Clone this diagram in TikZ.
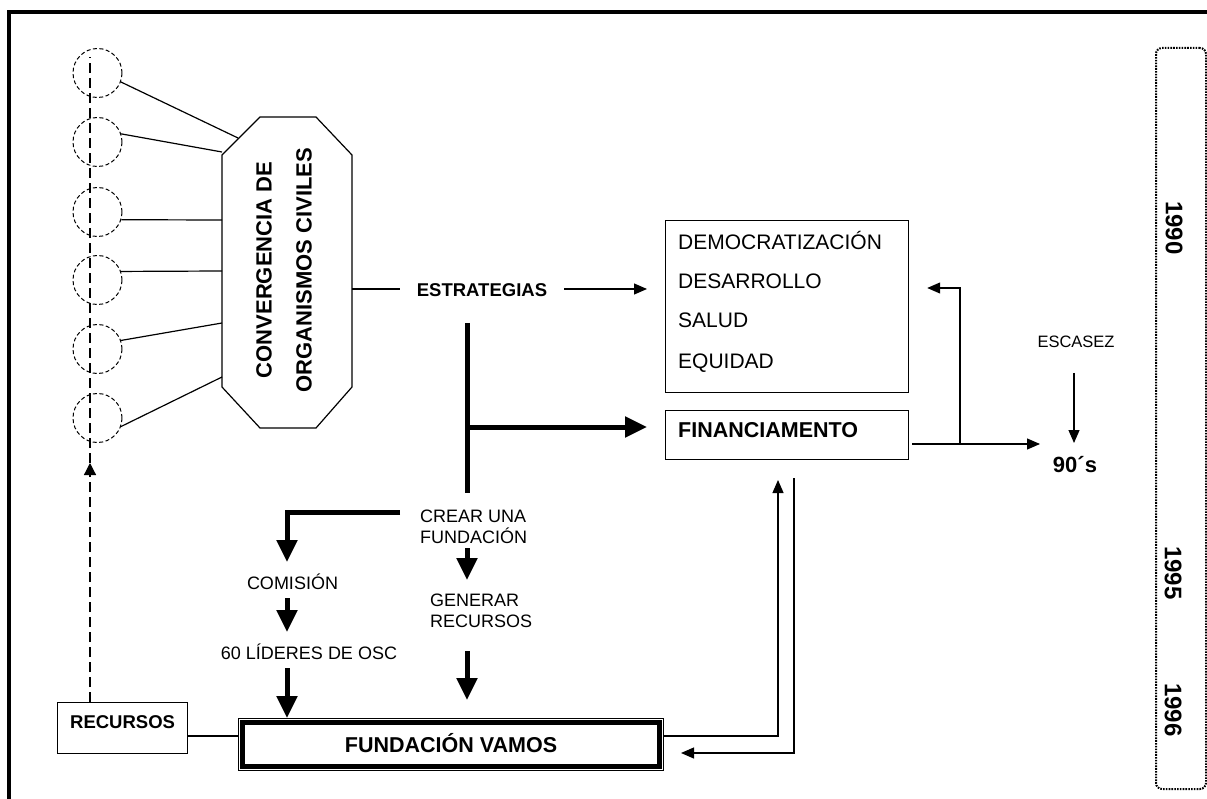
\documentclass[tikz,border=0pt]{standalone}
\usepackage{fontspec}
\setmainfont{Liberation Sans}
\usetikzlibrary{arrows.meta}
\begin{document}
\begin{tikzpicture}[x=1pt,y=-1pt,
  ln/.style={line width=1.2pt},
  thk/.style={line width=5pt},
  tarr/.style={ln,-{Triangle[width=11pt,length=13pt]}},
  barr/.style={thk,line join=miter,-{Triangle[width=20pt,length=22pt]}},
  box/.style={draw,ln,inner sep=0pt},
  circ/.style={circle,draw,line width=1pt,dash pattern=on 4pt off 2.5pt,minimum size=49pt,inner sep=0pt},
  rg/.style={font=\fontsize{18pt}{21pt}\selectfont,inner sep=0pt},
  rgl/.style={font=\fontsize{21pt}{25pt}\selectfont,inner sep=0pt},
  bd/.style={font=\fontsize{18.5pt}{22pt}\selectfont\bfseries,inner sep=0pt},
  bdl/.style={font=\fontsize{21.5pt}{25pt}\selectfont\bfseries,inner sep=0pt},
  yr/.style={font=\fontsize{24pt}{28pt}\selectfont\bfseries,inner sep=0pt,rotate=-90},
  dashln/.style={ln,dash pattern=on 10pt off 5pt}
]
\useasboundingbox (0,0) rectangle (1207,799);
\fill[white] (0,0) rectangle (1207,799);
\draw[line width=4.5pt] (9,799) -- (9,12) -- (1207,12);

% circles
\foreach \i/\y in {1/73,2/142,3/212,4/280,5/349,6/418}
  \node[circ] (c\i) at (97.5,\y) {};

% octagon
\draw[ln] (260,117) -- (316,117) -- (352,155) -- (352,387) -- (316,428)
  -- (260,428) -- (222,387) -- (222,155) -- cycle;
\node[rotate=90,align=center,font=\fontsize{22pt}{40pt}\selectfont\bfseries,inner sep=0pt]
  (oct) at (284,270) {CONVERGENCIA DE\\ORGANISMOS CIVILES};
\coordinate (o1) at (238,138);
\coordinate (o2) at (222,152);
\coordinate (o3) at (222,220);
\coordinate (o4) at (222,271);
\coordinate (o5) at (222,323);
\coordinate (o6) at (222,377);
\draw[ln] (c1.-21) -- (o1);
\draw[ln] (c2.19) -- (o2);
\draw[ln] (c3.-18) -- (o3);
\draw[ln] (c4.20) -- (o4);
\draw[ln] (c5.20) -- (o5);
\draw[ln] (c6.-20) -- (o6);

% estrategias
\node[bd,anchor=base,inner xsep=17pt] (est) at (482,297) {ESTRATEGIAS};
\coordinate (oe) at (352,289);
\draw[ln] (oe) -- (oe -| est.west);

% democratizacion box
\node[box,minimum width=243pt,minimum height=172pt,anchor=north west] (dem) at (665,220) {};
\node[rgl,anchor=base west] (d1) at (678,250) {DEMOCRATIZACIÓN};
\node[rgl,anchor=base west] (d2) at (678,289) {DESARROLLO};
\node[rgl,anchor=base west] (d3) at (678,328) {SALUD};
\node[rgl,anchor=base west] (d4) at (678,368) {EQUIDAD};
\draw[tarr,shorten >=18pt] (oe -| est.east) -- (oe -| dem.west);

% financiamento
\node[box,minimum width=243pt,minimum height=49pt,anchor=north west] (fin) at (665,410) {};
\node[bdl,anchor=base west] (fintxt) at (678,437) {FINANCIAMENTO};

% thick T
\coordinate (t1) at (467,323);
\coordinate (t2) at (467,493);
\coordinate (tj) at (467,427);
\draw[thk] (t1) -- (t2);
\draw[barr,shorten >=18pt] (tj) -- (tj -| fin.west);

% crear una fundacion
\node[rg,anchor=west,align=left] (crear) at (420,527) {CREAR UNA\\FUNDACIÓN};
\coordinate (k0) at (400,512);
\coordinate (k1) at (287,562);
\draw[barr] (k0) -| (k1);
\node[rg,anchor=base] (com) at (292.5,589) {COMISIÓN};
\node[rg,anchor=base] (lid) at (309,659) {60 LÍDERES DE OSC};
\node[rg,anchor=west,align=left] (gen) at (430,611) {GENERAR\\RECURSOS};
\coordinate (a1) at (467,548);
\coordinate (a2) at (467,580);
\coordinate (a3) at (287,598);
\coordinate (a4) at (287,632);
\coordinate (a5) at (287,668);
\coordinate (a6) at (467,651);
\coordinate (a7) at (467,700);
\draw[barr] (a1) -- (a2);
\draw[barr] (a3) -- (a4);
\draw[barr] (a6) -- (a7);

% fundacion vamos
\node[draw,line width=1pt,minimum width=425pt,minimum height=52pt,anchor=north west,
  font=\fontsize{21.5pt}{25pt}\selectfont\bfseries,text height=15.5pt,text depth=0pt,inner sep=0pt]
  (fv) at (238,718) {FUNDACIÓN VAMOS};
\draw[line width=4.5pt] ([shift={(4.5,4.5)}]fv.north west) rectangle ([shift={(-4.5,-4.5)}]fv.south east);
\draw[barr] (a5) -- (a5 |- fv.north);

% recursos
\node[box,bd,minimum width=130pt,minimum height=51pt,anchor=north west,
  text height=13pt,text depth=12pt] (rec) at (57,702) {RECURSOS};
\coordinate (rl) at (187,736);
\draw[ln] (rl) -- (rl -| fv.west);
\coordinate (dtip) at (90,463);
\coordinate (dtop) at (90,57);
\draw[dashln,-{Triangle[width=12pt,length=12pt]}] (rec.north -| dtip) -- (dtip);
\draw[dashln] (dtip) -- (dtop);

% right connectors
\coordinate (r1) at (778,736);
\coordinate (r1t) at (778,480);
\draw[tarr] (fv.east |- r1) -- (r1) -- (r1t);
\coordinate (r2) at (794,478);
\coordinate (r2b) at (794,753);
\draw[tarr,shorten >=17pt] (r2) -- (r2b) -- (r2b -| fv.east);

\coordinate (f1) at (912,444);
\coordinate (f2) at (1040,444);
\coordinate (br) at (960,444);
\coordinate (bt) at (960,288);
\draw[tarr] (f1) -- (f2);
\draw[tarr,shorten >=18pt] (br) -- (bt) -- (bt -| dem.east);

\node[font=\fontsize{22pt}{26pt}\selectfont\bfseries,inner sep=0pt,anchor=base] (nov) at (1075,472) {90´s};
\node[font=\fontsize{16.5pt}{20pt}\selectfont,inner sep=0pt,anchor=base] (esc) at (1076,348) {ESCASEZ};
\coordinate (e1) at (1074,373);
\coordinate (e2) at (1074,443);
\draw[tarr] (e1) -- (e2);

% timeline
\node[draw,line width=2pt,dash pattern=on 1.6pt off 1.2pt,rounded corners=6pt,
  minimum width=50pt,minimum height=741pt,anchor=north west,inner sep=0pt] (tl) at (1155,47) {};
\node[yr] (y1) at (1174,228) {1990};
\node[yr] (y2) at (1173,573) {1995};
\node[yr] (y3) at (1173,710) {1996};
\end{tikzpicture}
\end{document}
